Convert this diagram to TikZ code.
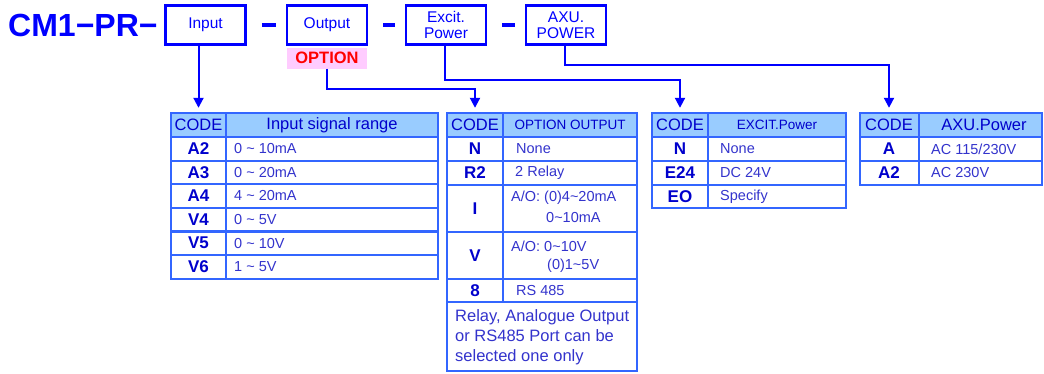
\documentclass[tikz,border=0pt]{standalone}
\usepackage{fontspec}
\setmainfont{Liberation Sans}
\usetikzlibrary{arrows.meta,positioning}

\definecolor{boxblue}{RGB}{0,0,255}
\definecolor{tabline}{RGB}{51,102,255}
\definecolor{tabhead}{RGB}{153,204,255}
\definecolor{codeblue}{RGB}{0,0,204}
\definecolor{textblue}{RGB}{51,51,204}
\definecolor{optred}{RGB}{255,0,0}
\definecolor{optpink}{RGB}{255,204,255}
\newcommand\tld{\textasciitilde}

\tikzset{
  partbox/.style={draw=boxblue, line width=2.6pt, minimum width=80pt, minimum height=39pt,
    inner sep=0pt, text=boxblue, align=center, font=\fontsize{15.5}{16}\selectfont},
  optlabel/.style={fill=optpink, minimum width=80pt, minimum height=21pt, inner sep=0pt,
    text=optred, font=\fontsize{16.5}{16}\bfseries},
  dashbar/.style={boxblue, line width=4.5pt},
  link/.style={boxblue, line width=2pt, -{Triangle[width=10pt,length=10pt]}, shorten >=5pt},
  grid/.style={tabline, line width=2.2pt},
  headtxt/.style={text=codeblue, minimum height=24pt, inner sep=0pt, font=\fontsize{16.5}{16}\selectfont},
  codetxt/.style={text=codeblue, inner sep=0pt, font=\fontsize{17}{17}\bfseries},
  desctxt/.style={text=textblue, anchor=west, inner sep=0pt, font=\fontsize{14.5}{15}\selectfont},
}

\begin{document}
\begin{tikzpicture}[x=1pt,y=-1pt]
\useasboundingbox (0,0) rectangle (1044,373);

% model code and part boxes
\node[anchor=west, inner sep=0pt, text=boxblue, font=\fontsize{32}{32}\bfseries] (model) at (8,25) {CM1−PR−};
\node[partbox] (inbox) at (205.5,25) {Input};
\node[partbox] (outbox) at (327,25) {Output};
\node[partbox] (excbox) at (446,25) {Excit.\\Power};
\node[partbox] (axubox) at (566,25) {AXU.\\POWER};
\node[optlabel, below=1.5pt of outbox] (option) {OPTION};
\foreach \a/\b in {inbox/outbox, outbox/excbox, excbox/axubox}
  \draw[dashbar] ([xshift=15pt]\a.east) -- ([xshift=-10pt]\b.west);

% input table
\fill[tabhead] (171,113) rectangle (438,137);
\draw[grid] (171,113) rectangle (438,278.6);
\foreach \y in {137,160.6,184.2,207.8,231.4,255}
  \draw[grid] (171,\y) -- (438,\y);
\draw[grid] (226,113) -- (226,278.6);
\node[headtxt] (incode) at (198.5,125) {CODE};
\node[headtxt] (inhead) at (332,125) {Input signal range};
\foreach \c/\d [count=\i] in {A2/0 \tld{} 10mA, A3/0 \tld{} 20mA, A4/4 \tld{} 20mA,
    V4/0 \tld{} 5V, V5/0 \tld{} 10V, V6/1 \tld{} 5V} {
  \node[codetxt] (inc\i) at (198.5,{125.2+23.6*\i}) {\c};
  \node[desctxt] (ind\i) at (234,{125.2+23.6*\i}) {\d};
}

% output table
\fill[tabhead] (447,113) rectangle (637,137);
\draw[grid] (447,113) rectangle (637,371);
\foreach \y in {137,161,185,232,279,302}
  \draw[grid] (447,\y) -- (637,\y);
\draw[grid] (503,113) -- (503,302);
\node[headtxt] (outcode) at (475,125) {CODE};
\node[headtxt, font=\fontsize{13.5}{14}\selectfont] (outhead) at (570,125) {OPTION OUTPUT};
\node[codetxt] (outc1) at (475,149) {N};
\node[desctxt] (outd1) at (516,149) {None};
\node[codetxt] (outc2) at (475,173) {R2};
\node[desctxt] (outd2) at (515,173) {2 Relay};
\node[codetxt] (outc3) at (475,208.5) {I};
\node[desctxt] (outd3) at (511,198) {A/O: (0)4\tld20mA};
\node[desctxt] (outd3b) at (546,218) {0\tld10mA};
\node[codetxt] (outc4) at (475,255.5) {V};
\node[desctxt] (outd4) at (511,246) {A/O: 0\tld10V};
\node[desctxt] (outd4b) at (547,266) {(0)1\tld5V};
\node[codetxt] (outc5) at (475,290.5) {8};
\node[desctxt] (outd5) at (516,290.5) {RS 485};
\node[text=textblue, anchor=west, inner sep=0pt, align=left,
  font=\fontsize{16.5}{20}\selectfont] (outnote) at (455,337.5)
  {Relay, Analogue Output\\or RS485 Port can be\\selected one only};

% excitation table
\fill[tabhead] (652,113) rectangle (846,137);
\draw[grid] (652,113) rectangle (846,208);
\foreach \y in {137,161,185}
  \draw[grid] (652,\y) -- (846,\y);
\draw[grid] (708,113) -- (708,208);
\node[headtxt] (exccode) at (680,125) {CODE};
\node[headtxt, font=\fontsize{13.5}{14}\selectfont] (exchead) at (777,125) {EXCIT.Power};
\foreach \c/\d [count=\i] in {N/None, E24/DC 24V, EO/Specify} {
  \node[codetxt] (excc\i) at (680,{125+24*\i}) {\c};
  \node[desctxt] (excd\i) at (720,{125+24*\i}) {\d};
}

% auxiliary power table
\fill[tabhead] (860,113) rectangle (1042,137);
\draw[grid] (860,113) rectangle (1042,185);
\foreach \y in {137,161}
  \draw[grid] (860,\y) -- (1042,\y);
\draw[grid] (919,113) -- (919,185);
\node[headtxt] (axucode) at (889,125) {CODE};
\node[headtxt] (axuhead) at (984,125) {AXU.Power};
\foreach \c/\d [count=\i] in {A/{AC 115/230V}, A2/{AC 230V}} {
  \node[codetxt] (axuc\i) at (889,{125+24*\i}) {\c};
  \node[desctxt] (axud\i) at (931,{125+24*\i}) {\d};
}

% connectors
\draw[link] (incode.north |- inbox.south) -- (incode.north);
\draw[link] (option.south) -- ++(0,20) -| (outcode.north);
\draw[link] ([xshift=-1pt]excbox.south) -- ++(0,34) -| (exccode.north);
\draw[link] ([xshift=-1pt]axubox.south) -- ++(0,19) -| (axucode.north);
\end{tikzpicture}
\end{document}
